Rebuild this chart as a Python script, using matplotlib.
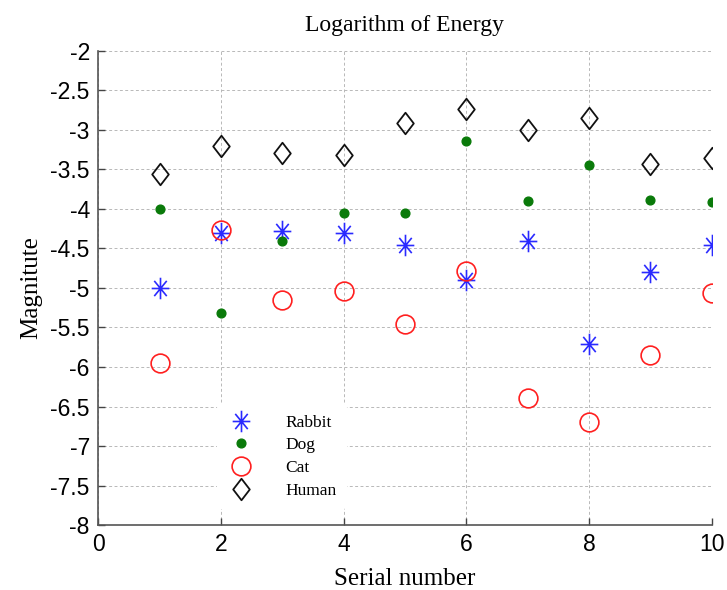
import matplotlib
matplotlib.use("Agg")
import matplotlib.pyplot as plt
from matplotlib.path import Path

serial = [1, 2, 3, 4, 5, 6, 7, 8, 9, 10]
rabbit = [-5.00, -4.30, -4.28, -4.30, -4.46, -4.90, -4.41, -5.71, -4.80, -4.46]
dog = [-4.00, -5.32, -4.41, -4.05, -4.05, -3.14, -3.90, -3.45, -3.89, -3.91]
cat = [-5.95, -4.27, -5.15, -5.04, -5.46, -4.78, -6.39, -6.70, -5.85, -5.07]
human = [-3.56, -3.21, -3.29, -3.32, -2.92, -2.74, -3.00, -2.85, -3.43, -3.36]

xticks = [0, 2, 4, 6, 8, 10]
yticks = [-8, -7.5, -7, -6.5, -6, -5.5, -5, -4.5, -4, -3.5, -3, -2.5, -2]
ytick_labels = ["-8", "-7.5", "-7", "-6.5", "-6", "-5.5", "-5", "-4.5", "-4",
                "-3.5", "-3", "-2.5", "-2"]

serif = ["Liberation Serif", "DejaVu Serif"]
sans = ["Liberation Sans", "DejaVu Sans"]

# MATLAB-style markers: 8-spoke asterisk and a slightly tall diamond
sx = 0.82
asterisk = Path([(0, -1), (0, 1), (-sx, 0), (sx, 0),
                 (-0.707 * sx, -0.707), (0.707 * sx, 0.707),
                 (-0.707 * sx, 0.707), (0.707 * sx, -0.707)],
                [Path.MOVETO, Path.LINETO] * 4)
diamond = Path([(0, 1), (0.77, 0), (0, -1), (-0.77, 0), (0, 1)],
               [Path.MOVETO, Path.LINETO, Path.LINETO, Path.LINETO, Path.CLOSEPOLY])

fig = plt.figure(figsize=(7.27, 5.90), dpi=100)
ax = fig.add_axes([0.135, 0.110, 0.844, 0.804])

ax.plot(serial, rabbit, linestyle="none", marker=asterisk, markersize=15.5,
        markeredgecolor="#2a2aff", markerfacecolor="none", markeredgewidth=1.2,
        label="Rabbit")
ax.plot(serial, dog, linestyle="none", marker="o", markersize=6.3,
        markeredgecolor="#0a7a0a", markerfacecolor="#0a7a0a", label="Dog")
ax.plot(serial, cat, linestyle="none", marker="o", markersize=13.5,
        markeredgecolor="#ff2020", markerfacecolor="none", markeredgewidth=1.2,
        label="Cat")
ax.plot(serial, human, linestyle="none", marker=diamond, markersize=15.5,
        markeredgecolor="#111111", markerfacecolor="none", markeredgewidth=1.3,
        label="Human")

ax.set_xlim(0, 10)
ax.set_ylim(-8, -2)
ax.set_xticks(xticks)
ax.set_yticks(yticks)
ax.set_yticklabels(ytick_labels)
ax.tick_params(direction="in", length=5, width=1, colors="#444444",
               labelcolor="black", labelsize=16.5, pad=6)
for lab in ax.get_xticklabels() + ax.get_yticklabels():
    lab.set_fontfamily(sans)

ax.grid(True, linestyle=(0, (3, 2.5)), color="#b8b8b8", linewidth=0.7)
for side in ("top", "right"):
    ax.spines[side].set_visible(False)
for side in ("left", "bottom"):
    ax.spines[side].set_color("#555555")
    ax.spines[side].set_linewidth(1.2)

ax.set_title("Logarithm of Energy", fontfamily=serif, fontsize=17, pad=14)
ax.set_xlabel("Serial number", fontfamily=serif, fontsize=18, labelpad=8)
ax.set_ylabel("Magnitute", fontfamily=serif, fontsize=18, labelpad=6)

leg = ax.legend(loc="lower left", bbox_to_anchor=(0.179, 0.015), frameon=True,
                facecolor="white", edgecolor="none", framealpha=1,
                prop={"family": serif, "size": 12.5}, labelspacing=0.38,
                handletextpad=1.75, borderpad=0.6, handlelength=1.6)

fig.savefig("out.png", dpi=100)
